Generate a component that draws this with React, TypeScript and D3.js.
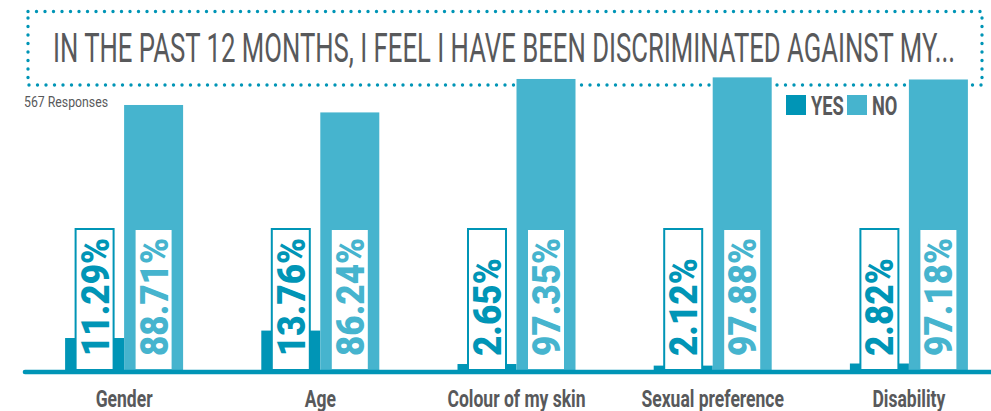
import React from "react";
import * as d3 from "d3";

const categories = ["Gender", "Age", "Colour of my skin", "Sexual preference", "Disability"];
const yesValues = [11.29, 13.76, 2.65, 2.12, 2.82];
const noValues = [88.71, 86.24, 97.35, 97.88, 97.18];
const seriesNames = ["YES", "NO"];
const titleText = "IN THE PAST 12 MONTHS, I FEEL I HAVE BEEN DISCRIMINATED AGAINST MY...";
const responsesText = "567 Responses";

const W = 991;
const H = 411;
const YES_COLOR = "#0095b6";
const NO_COLOR = "#46b4ce";
const GREY = "#58595b";
const CONDENSE = 0.73;

export default function App() {
  const x = d3.scaleBand<string>().domain(categories).range([26, 1007]).padding(0);
  const bw = x.bandwidth();
  const xs = d3.scaleBand<string>().domain(seriesNames).range([bw / 2 - 59, bw / 2 + 59]).padding(0);
  const y = d3.scaleLinear().domain([0, 100]).range([372, 71]);

  const data = categories.map((c, i) => ({ c, vals: [yesValues[i], noValues[i]] }));
  const colors = [YES_COLOR, NO_COLOR];
  const boxW = 38;
  const boxTop = 229;
  const boxBottom = 370;

  return (
    <svg width={W} height={H} style={{ position: "absolute", left: 0, top: 0, background: "#fff" }}>
      <rect x={0} y={0} width={W} height={H} fill="#fff" />
      {/* dotted title frame */}
      <rect
        x={28}
        y={11.5}
        width={954}
        height={73.5}
        fill="none"
        stroke={YES_COLOR}
        strokeWidth={3.4}
        strokeLinecap="round"
        strokeDasharray="0 8.5"
      />
      <text
        x={53}
        y={62}
        fontFamily="Roboto, sans-serif"
        fontSize={40}
        fill={GREY}
        textLength={902}
        lengthAdjust="spacingAndGlyphs"
      >
        {titleText}
      </text>
      <text
        x={24}
        y={107}
        fontFamily="Roboto, sans-serif"
        fontSize={15}
        fill={GREY}
        textLength={84}
        lengthAdjust="spacingAndGlyphs"
      >
        {responsesText}
      </text>

      {/* legend */}
      {seriesNames.map((s, i) => {
        const lx = 786 + i * 61;
        return (
          <g key={s}>
            <rect x={lx} y={95} width={20} height={20} fill={colors[i]} />
            <text
              transform={`translate(${lx + 25},115) scale(${CONDENSE},1)`}
              fontFamily="Roboto, sans-serif"
              fontWeight={700}
              fontSize={25}
              fill={GREY}
            >
              {s}
            </text>
          </g>
        );
      })}

      {/* bars */}
      {data.map((d) => (
        <g key={d.c} transform={`translate(${x(d.c)},0)`}>
          {d.vals.map((v, i) => (
            <rect
              key={i}
              x={xs(seriesNames[i])}
              y={y(v)}
              width={xs.bandwidth()}
              height={y(0) - y(v)}
              fill={colors[i]}
            />
          ))}
          {d.vals.map((v, i) => {
            const cx = (xs(seriesNames[i]) as number) + xs.bandwidth() / 2;
            return (
              <g key={"l" + i}>
                <rect
                  x={cx - boxW / 2}
                  y={boxTop}
                  width={boxW}
                  height={boxBottom - boxTop}
                  fill="#fff"
                  stroke={colors[i]}
                  strokeWidth={2}
                />
                <text
                  transform={`translate(${cx + 14},356) rotate(-90) scale(0.9,1)`}
                  fontFamily="Roboto, sans-serif"
                  fontWeight={900}
                  fontSize={39}
                  fill={colors[i]}
                >
                  {v.toFixed(2) + "%"}
                </text>
              </g>
            );
          })}
          <text
            transform={`translate(${bw / 2},407) scale(${CONDENSE},1)`}
            textAnchor="middle"
            fontFamily="Roboto, sans-serif"
            fontWeight={700}
            fontSize={24}
            fill={GREY}
          >
            {d.c}
          </text>
        </g>
      ))}

      {/* baseline */}
      <line x1={25} x2={W + 5} y1={y(0)} y2={y(0)} stroke={YES_COLOR} strokeWidth={4.6} strokeLinecap="round" />
    </svg>
  );
}
